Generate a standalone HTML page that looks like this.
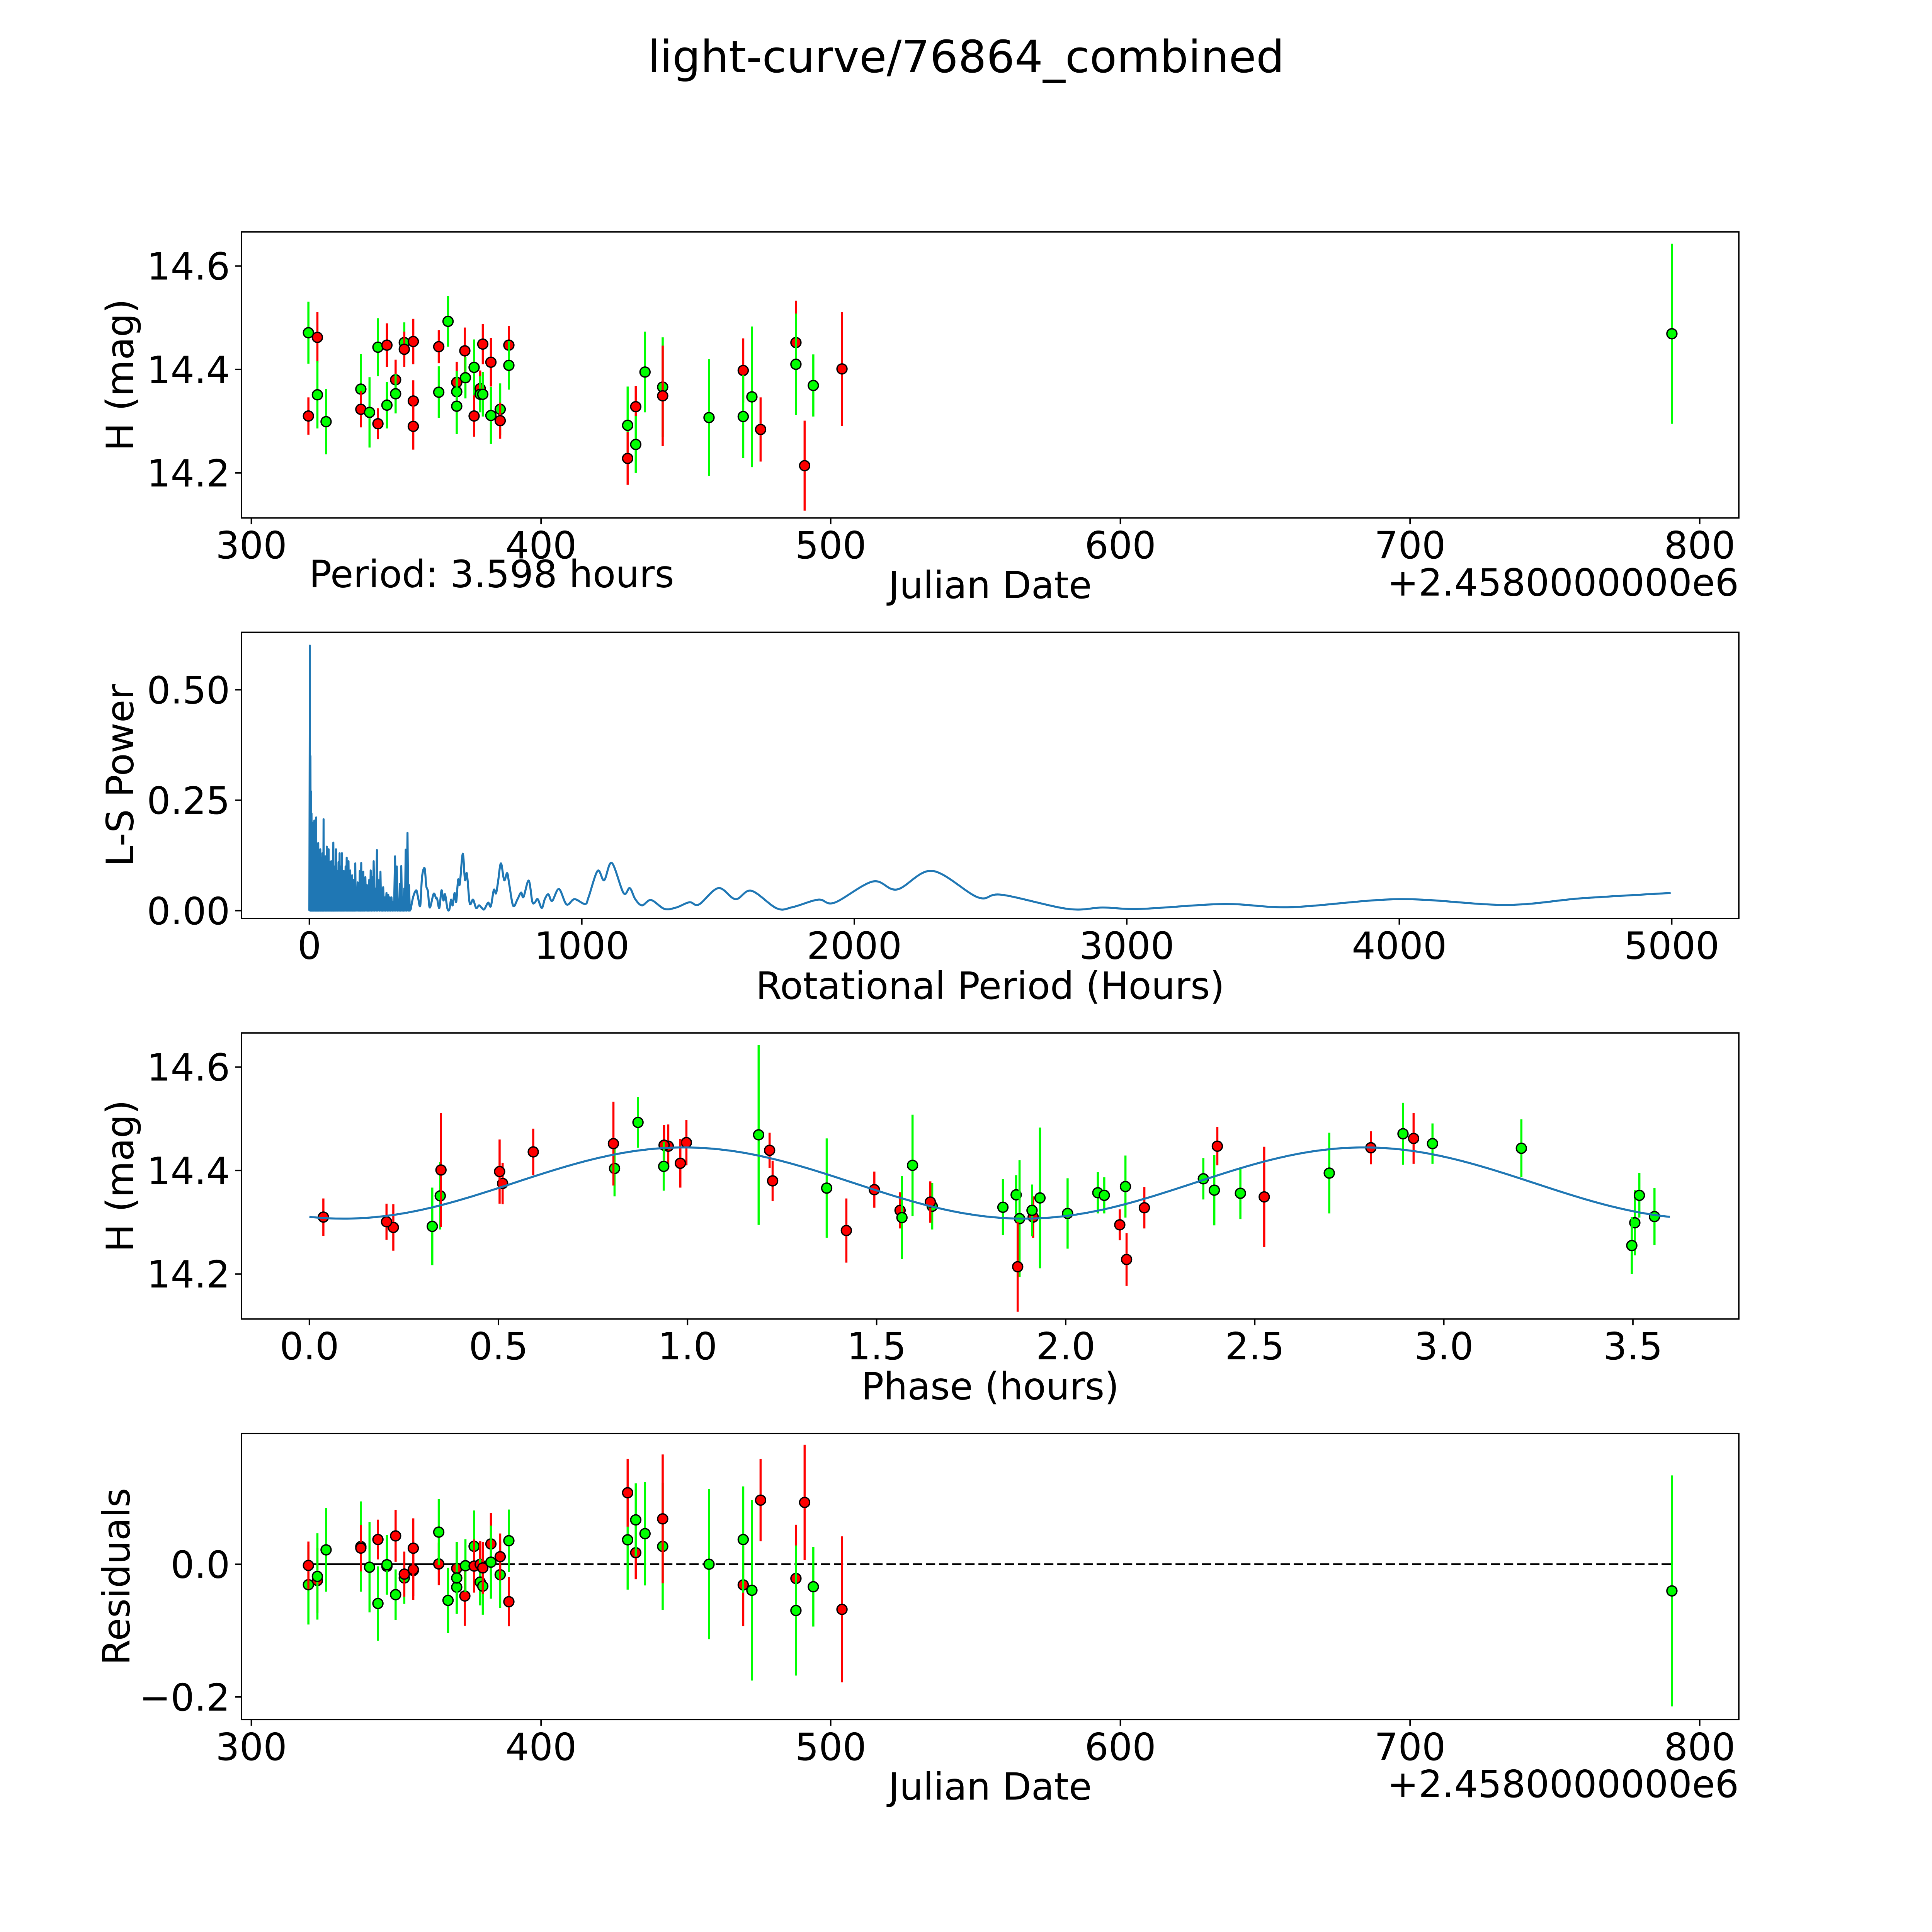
<!DOCTYPE html>
<html><head><meta charset="utf-8"><style>
html,body{margin:0;padding:0;background:#fff;overflow:hidden;width:5400px;height:5400px;}
svg{display:block;}
text{font-family:"DejaVu Sans","Liberation Sans",sans-serif;fill:#000;}
</style></head>
<body>
<svg id="fig" width="5400" height="5400" viewBox="0 0 5400 5400" xmlns="http://www.w3.org/2000/svg">
<rect x="0" y="0" width="5400" height="5400" fill="#fff"/>
<text x="2500" y="187" font-size="115" text-anchor="middle">light-curve/76864_combined</text>
<g id="p1"></g>
<g id="p2"></g>
<g id="p3"></g>
<g id="p4"></g>
</svg>
<script>
// ---- observations ----
const jd = [319.7,319.7,322.8,322.8,325.8,337.8,337.8,340.8,343.7,343.7,346.8,346.8,349.8,349.8,352.8,352.8,355.9,355.9,355.9,364.7,364.7,367.9,370.9,370.9,370.9,373.7,373.9,376.9,376.9,379.0,379.0,379.9,379.9,382.7,382.7,385.9,385.9,388.9,388.9,429.9,429.9,432.7,432.7,435.9,442.0,442.0,458.0,469.8,469.8,472.8,475.8,488.0,488.0,491.0,494.0,503.9,790.4];
const mag = [14.471,14.310,14.462,14.351,14.299,14.362,14.323,14.317,14.443,14.295,14.447,14.331,14.380,14.353,14.452,14.439,14.454,14.339,14.290,14.444,14.356,14.493,14.375,14.357,14.329,14.436,14.384,14.404,14.310,14.363,14.352,14.352,14.449,14.414,14.311,14.323,14.301,14.447,14.408,14.292,14.228,14.328,14.255,14.395,14.366,14.349,14.307,14.398,14.309,14.347,14.284,14.452,14.410,14.214,14.369,14.401,14.469];
const magErr = [0.060,0.036,0.049,0.065,0.063,0.068,0.035,0.068,0.056,0.030,0.042,0.045,0.039,0.038,0.039,0.034,0.044,0.040,0.045,0.032,0.050,0.049,0.040,0.040,0.054,0.045,0.040,0.054,0.040,0.035,0.035,0.043,0.039,0.047,0.055,0.050,0.035,0.037,0.047,0.075,0.051,0.040,0.055,0.078,0.096,0.097,0.113,0.062,0.080,0.136,0.062,0.081,0.098,0.087,0.060,0.110,0.174];
const filt = ["G","R","R","G","G","G","R","G","G","R","R","G","R","G","G","R","R","R","R","R","G","G","R","G","G","R","G","G","R","R","G","G","R","R","G","G","R","R","G","G","R","R","G","G","G","R","G","R","G","G","R","R","G","R","G","R","G"];
const phase = [2.892,0.037,2.920,0.346,3.505,2.393,1.562,2.005,3.205,2.143,0.949,1.647,1.225,1.869,2.970,1.217,0.997,1.642,0.222,2.807,2.462,0.869,0.511,2.085,1.834,0.592,2.364,0.807,1.914,1.494,2.102,3.517,0.938,0.981,3.557,1.911,0.204,2.401,0.937,0.325,2.161,2.208,3.497,2.697,1.368,2.525,1.878,0.503,1.567,1.932,1.420,0.804,1.595,1.873,2.158,0.348,1.188];
// ---- sinusoid fit ----
const fitPeriod = [3.598];
const fitParams = [14.3758, 0.0688, 0.99]; // mean, amplitude, peak phase
// ---- Lomb-Scargle periodogram ----
const spikePeriod = [2.1,4,6,8,10.8,13,15.5,18.4,21,23,25,27.5,30,32.6,35,37.5,40.2,43,45.5,48,50,52.2,55,58.7,61,64.1,67,70.7,73.5,76,78,80.5,83,85.5,88.1,91,94,97.9,101,104,107,111,114,116.5,119.6,123,126,129.4,133,137,140,143.6,147,150,154,157,160,164,168.6,172,177.3,181,185,190.4,194,198,201,205.6,211,216,220,225,230.7,236,242,248,254.6,261,266,271,277,283,289.4,295,301.4,307,314.5,321,327,332,337.3,343,348,353.7,360.2,365.6];
const spikePower = [0.60,0.35,0.27,0.22,0.19,0.17,0.20,0.204,0.16,0.18,0.211,0.15,0.13,0.153,0.12,0.10,0.139,0.12,0.09,0.13,0.11,0.207,0.10,0.123,0.09,0.145,0.10,0.139,0.08,0.11,0.07,0.112,0.06,0.09,0.154,0.07,0.10,0.139,0.06,0.09,0.11,0.13,0.07,0.10,0.13,0.06,0.09,0.069,0.10,0.12,0.07,0.112,0.06,0.091,0.05,0.08,0.061,0.07,0.107,0.05,0.064,0.04,0.09,0.108,0.05,0.088,0.03,0.076,0.058,0.04,0.07,0.091,0.076,0.112,0.05,0.137,0.069,0.088,0.03,0.053,0.03,0.04,0.036,0.03,0.030,0.02,0.123,0.100,0.02,0.06,0.101,0.03,0.05,0.138,0.176,0.058];
const smoothPeriod = [372,381,392,398,407,413.5,423,429,435,442,456,465,469,477,485,492,498,507,514,520,526,533,539,546,552,563,571,578,587,592,601,612,623,633,642,656,666,677,685,692,703,715,726,734,748,764,777,786,805,818,827,838,853,864,877,891,916,944,973,1012,1025,1058,1082,1110,1153,1176,1196,1221,1254,1303,1346,1395,1430,1501,1564,1622,1716,1774,1868,1927,2068,2157,2286,2454,2541,2783,2912,3052,3357,3603,4002,4389,4670,4996];
const smoothPower = [0.003,0.031,0.046,0.033,0.011,0.076,0.096,0.056,0.044,0.007,0.038,0.028,0.027,0.006,0.046,0.023,0.037,0.004,0.003,0.025,0.012,0.040,0.020,0.070,0.060,0.129,0.070,0.084,0.023,0.015,0.025,0.006,0.012,0.006,0.003,0.018,0.010,0.047,0.039,0.063,0.107,0.069,0.085,0.058,0.011,0.026,0.041,0.031,0.068,0.021,0.018,0.026,0.006,0.026,0.037,0.022,0.049,0.014,0.026,0.015,0.031,0.090,0.069,0.108,0.040,0.051,0.026,0.012,0.024,0.004,0.007,0.019,0.014,0.051,0.026,0.045,0.005,0.008,0.025,0.018,0.066,0.048,0.090,0.030,0.036,0.004,0.007,0.004,0.015,0.008,0.026,0.013,0.028,0.040];
// ---- ticks ----
const jdTicks = [300,400,500,600,700,800];
const magTicks = [14.2,14.4,14.6];
const lsXTicks = [0,1000,2000,3000,4000,5000];
const lsYTicks = [0.00,0.25,0.50];
const phaseTicks = [0.0,0.5,1.0,1.5,2.0,2.5,3.0,3.5];
const residTicks = [-0.2,0.0];

const NS = "http://www.w3.org/2000/svg";
const K = 0.92593;
const L = 675*K, R = 4860*K;
const tops = [648*K, 1767.4*K, 2887*K, 4006.6*K];
const H = 799.6*K;
const FS = 100*K*1.045;
const COL = {G:"#00ff00", R:"#ff0000"};

function mk(parent, tag, attrs){
  const e = document.createElementNS(NS, tag);
  for (const k in attrs) e.setAttribute(k, attrs[k]);
  parent.appendChild(e);
  return e;
}
function lin(d0,d1,p0,p1){ return v => p0 + (v-d0)/(d1-d0)*(p1-p0); }
function model(ph){ return fitParams[0] + fitParams[1]*Math.cos(2*Math.PI*(ph-fitParams[2])/(fitPeriod[0]/2)); }
function fmt(v, d){ const s = v.toFixed(d); return v < 0 ? "\u2212" + s.slice(1) : s; }

function axes(g, top, sx, sy, xt, xd, yt, yd){
  const bot = top + H;
  const fr = mk(g, "rect", {x:L, y:top, width:R-L, height:H, fill:"none", stroke:"#000", "stroke-width":3.7});
  
  
  xt.forEach(v => {
    const x = sx(v);
    const t = mk(g, "line", {x1:x, y1:bot, x2:x, y2:bot+16, stroke:"#000", "stroke-width":3.7});
    
    
    const lb = mk(g, "text", {x:x, y:bot+(34+79)*K, "font-size":FS, "text-anchor":"middle"});
    lb.textContent = fmt(v, xd);
    
    
  });
  yt.forEach(v => {
    const y = sy(v);
    const t = mk(g, "line", {x1:L-16, y1:y, x2:L, y2:y, stroke:"#000", "stroke-width":3.7});
    
    
    const lb = mk(g, "text", {x:L-32*K, y:y+38*K, "font-size":FS, "text-anchor":"end"});
    lb.textContent = fmt(v, yd);
    
    
  });
}
function label(g, txt, x, y, rot, anchor, name){
  const t = mk(g, "text", {x:x, y:y, "font-size":FS, "text-anchor":anchor||"middle"});
  if (rot) t.setAttribute("transform", "rotate(-90 "+x+" "+y+")");
  t.textContent = txt;
  
  
  return t;
}
function points(g, xs, ys, es, sx, sy){
  for (let i=0;i<xs.length;i++){
    const c = COL[filt[i]];
    const x = sx(xs[i]);
    const eb = mk(g, "line", {x1:x, y1:sy(ys[i]-es[i]), x2:x, y2:sy(ys[i]+es[i]), stroke:c, "stroke-width":5.5});
    
    
    const m = mk(g, "circle", {cx:x, cy:sy(ys[i]), r:13, fill:c, stroke:"#000", "stroke-width":3.4});
    
    
  }
}

// Panel 1: light curve
(function(){
  const g = document.getElementById("p1"), top = tops[0];
  const sx = lin(296.6, 813.5, L, R), sy = lin(14.666, 14.113, top, top+H);
  axes(g, top, sx, sy, jdTicks, 0, magTicks, 1);
  points(g, jd, mag, magErr, sx, sy);
  label(g, "H (mag)", 372*K, top+H/2, true, "middle", "y-axis-title");
  label(g, "Julian Date", (L+R)/2, 1672*K, false, "middle", "x-axis-title");
  label(g, "+2.4580000000e6", R, 1665*K, false, "end", "x-offset-label");
  label(g, "Period: 3.598 hours", 864*K, 1641*K, false, "start", "period-annotation");
})();

// Panel 2: periodogram
(function(){
  const g = document.getElementById("p2"), top = tops[1];
  const sx = lin(-249, 5246, L, R), sy = lin(0.630, -0.0176, top, top+H);
  axes(g, top, sx, sy, lsXTicks, 0, lsYTicks, 2);
  let d = "M" + sx(0).toFixed(1) + "," + sy(0).toFixed(1);
  for (let i=0;i<spikePeriod.length;i++){
    d += " L" + sx(spikePeriod[i]).toFixed(1) + "," + sy(spikePower[i]).toFixed(1);
    const nx = i+1 < spikePeriod.length ? spikePeriod[i+1] : smoothPeriod[0];
    d += " L" + sx((spikePeriod[i]+nx)/2).toFixed(1) + "," + sy(0).toFixed(1);
  }
  const P = smoothPeriod.map((p,i)=>[sx(p), sy(smoothPower[i])]);
  d += " L" + P[0][0].toFixed(1) + "," + P[0][1].toFixed(1);
  for (let i=0;i<P.length-1;i++){
    const p0 = P[Math.max(0,i-1)], p1 = P[i], p2 = P[i+1], p3 = P[Math.min(P.length-1,i+2)];
    const c1 = [p1[0]+(p2[0]-p0[0])/6, p1[1]+(p2[1]-p0[1])/6];
    const c2 = [p2[0]-(p3[0]-p1[0])/6, p2[1]-(p3[1]-p1[1])/6];
    d += " C"+c1[0].toFixed(1)+","+c1[1].toFixed(1)+" "+c2[0].toFixed(1)+","+c2[1].toFixed(1)+" "+p2[0].toFixed(1)+","+p2[1].toFixed(1);
  }
  const ln = mk(g, "path", {d:d, fill:"none", stroke:"#1f77b4", "stroke-width":5.2, "stroke-linejoin":"round"});
  
  
  label(g, "L-S Power", 372*K, top+H/2, true, "middle", "y-axis-title");
  label(g, "Rotational Period (Hours)", (L+R)/2, 2792*K, false, "middle", "x-axis-title");
})();

// Panel 3: phase-folded
(function(){
  const g = document.getElementById("p3"), top = tops[2];
  const sx = lin(-0.1795, 3.780, L, R), sy = lin(14.666, 14.113, top, top+H);
  axes(g, top, sx, sy, phaseTicks, 1, magTicks, 1);
  points(g, phase, mag, magErr, sx, sy);
  let d = "";
  for (let k=0;k<=360;k++){
    const ph = fitPeriod[0]*k/360;
    d += (k?" L":"M") + sx(ph).toFixed(1) + "," + sy(model(ph)).toFixed(1);
  }
  const ln = mk(g, "path", {d:d, fill:"none", stroke:"#1f77b4", "stroke-width":5.3});
  
  
  label(g, "H (mag)", 372*K, top+H/2, true, "middle", "y-axis-title");
  label(g, "Phase (hours)", (L+R)/2, 3911*K, false, "middle", "x-axis-title");
})();

// Panel 4: residuals
(function(){
  const g = document.getElementById("p4"), top = tops[3];
  const sx = lin(296.6, 813.5, L, R), sy = lin(0.197, -0.234, top, top+H);
  axes(g, top, sx, sy, jdTicks, 0, residTicks, 1);
  const resid = mag.map((m,i)=> model(phase[i]) - m);
  const minJ = Math.min(...jd), maxJ = Math.max(...jd);
  const zl = mk(g, "line", {x1:sx(minJ), y1:sy(0), x2:sx(maxJ), y2:sy(0), stroke:"#000", "stroke-width":4.6, "stroke-dasharray":"24 10"});
  
  
  const zl2 = mk(g, "line", {x1:sx(minJ), y1:sy(0), x2:sx(389), y2:sy(0), stroke:"#000", "stroke-width":4.6});
  
  
  points(g, jd, resid, magErr, sx, sy);
  label(g, "Residuals", 362*K, top+H/2, true, "middle", "y-axis-title");
  label(g, "Julian Date", (L+R)/2, 5030*K, false, "middle", "x-axis-title");
  label(g, "+2.4580000000e6", R, 5023*K, false, "end", "x-offset-label");
})();
</script>
</body></html>
